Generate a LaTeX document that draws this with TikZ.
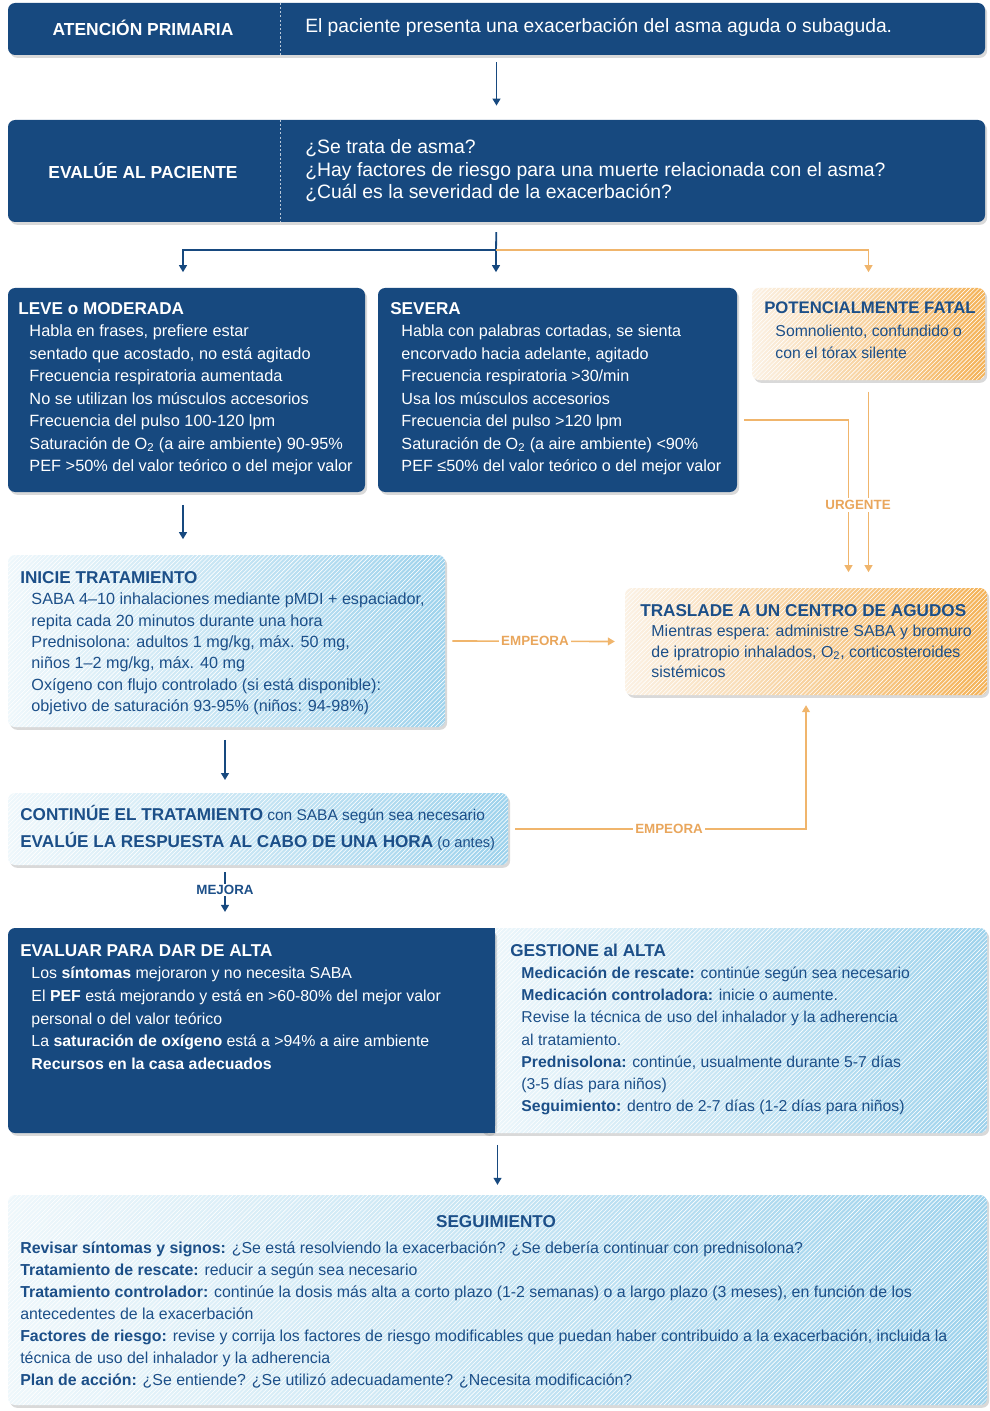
\documentclass[tikz,border=0pt]{standalone}
\usepackage{fontspec}
\setmainfont{Liberation Sans}
\usetikzlibrary{positioning,arrows.meta,calc,fit,shadows,patterns}
\definecolor{navy}{HTML}{17497F}
\definecolor{navytext}{HTML}{1C4F88}
\definecolor{skyL}{HTML}{EEF7FB}
\definecolor{skyR}{HTML}{9DD2EC}
\definecolor{amberL}{HTML}{FBF1E4}
\definecolor{amberR}{HTML}{F4B257}
\definecolor{amberline}{HTML}{F0B56C}
\definecolor{amberlabel}{HTML}{E9A65C}
\newcommand{\hdr}[1]{{\fontsize{12.2}{16}\selectfont\bfseries #1}}
\newcommand{\ind}{\hspace*{0.28cm}}
\tikzset{
  boxshadow/.style={drop shadow={opacity=0.3,shadow xshift=1.5pt,shadow yshift=-2pt}},
  hatch/.style={postaction={fill opacity=0.18,pattern=north east lines,pattern color=white}},
  navybox/.style={fill=navy,rounded corners=5pt,inner sep=0pt,boxshadow},
  skybox/.style={left color=skyL,right color=skyR,rounded corners=5pt,inner sep=0pt,boxshadow,hatch},
  amberbox/.style={left color=amberL,right color=amberR,rounded corners=5pt,inner sep=0pt,boxshadow,hatch},
  txtW/.style={text=white,align=left,inner sep=0pt,anchor=north west,font=\fontsize{11.6}{16}\selectfont},
  txtB/.style={txtW,text=navytext},
  sepline/.style={draw=white!70!navy,line width=0.6pt,dash pattern=on 1.5pt off 1.5pt},
  navyline/.style={draw=navy,line width=1.3pt},
  navyarrow/.style={navyline,-{Triangle[length=5pt,width=5.5pt]}},
  amberline/.style={draw=amberline,line width=1.2pt},
  amberarrow/.style={amberline,-{Triangle[length=5pt,width=5.5pt]}},
  amberlbl/.style={fill=white,inner sep=1.5pt,text=amberlabel,font=\fontsize{9.5}{11}\selectfont\bfseries},
}
\begin{document}
\begin{tikzpicture}[x=0.025cm,y=-0.025cm]
  \useasboundingbox (0,0) rectangle (990,1411);
  % cabecera
  \node[navybox,fit={(8,3) (985,55)}] (aten) {};
  \draw[sepline] (aten.north -| 280,0) -- (aten.south -| 280,0);
  \node[text=white,font=\fontsize{12.4}{14}\selectfont\bfseries] (aten-t) at (143,28) {ATENCIÓN PRIMARIA};
  \node[txtW,anchor=west,font=\fontsize{13.7}{16}\selectfont] (aten-x) at (305,27)
    {El paciente presenta una exacerbación del asma aguda o subaguda.};
  \node[navybox,fit={(8,120) (985,222)}] (eval) {};
  \draw[sepline] (eval.north -| 280,0) -- (eval.south -| 280,0);
  \node[text=white,font=\fontsize{12.4}{14}\selectfont\bfseries] (eval-t) at (143,171) {EVALÚE AL PACIENTE};
  \node[txtW,anchor=west,font=\fontsize{13.8}{16}\selectfont] (eval-x) at (305,171)
    {¿Se trata de asma?\\
     ¿Hay factores de riesgo para una muerte relacionada con el asma?\\
     ¿Cuál es la severidad de la exacerbación?};
  % severidad
  \node[navybox,fit={(8,288) (365,492)}] (leve) {};
  \node[txtW] (leve-x) at (18,302)
    {\hdr{LEVE o MODERADA}\\
     \ind Habla en frases, prefiere estar\\
     \ind sentado que acostado, no está agitado\\
     \ind Frecuencia respiratoria aumentada\\
     \ind No se utilizan los músculos accesorios\\
     \ind Frecuencia del pulso 100-120 lpm\\
     \ind Saturación de O\textsubscript{2} (a aire ambiente) 90-95\%\\
     \ind PEF >50\% del valor teórico o del mejor valor};
  \node[navybox,fit={(378,288) (737,492)}] (sev) {};
  \node[txtW,font=\fontsize{11.5}{16}\selectfont] (sev-x) at (390,302)
    {\hdr{SEVERA}\\
     \ind Habla con palabras cortadas, se sienta\\
     \ind encorvado hacia adelante, agitado\\
     \ind Frecuencia respiratoria >30/min\\
     \ind Usa los músculos accesorios\\
     \ind Frecuencia del pulso >120 lpm\\
     \ind Saturación de O\textsubscript{2} (a aire ambiente) <90\%\\
     \ind PEF ≤50\% del valor teórico o del mejor valor};
  \node[amberbox,fit={(752,288) (985,380)}] (fatal) {};
  \node[txtB,font=\fontsize{11.2}{16}\selectfont] (fatal-x) at (764,302)
    {{\fontsize{11.9}{16}\selectfont\bfseries POTENCIALMENTE FATAL}\\
     \ind Somnoliento, confundido o\\
     \ind con el tórax silente};
  % tratamiento
  \node[skybox,fit={(8,555) (445,727)}] (inicie) {};
  \node[txtB,font=\fontsize{11.5}{15.2}\selectfont] (inicie-x) at (20,571)
    {\hdr{INICIE TRATAMIENTO}\\
     \ind SABA 4–10 inhalaciones mediante pMDI + espaciador,\\
     \ind repita cada 20 minutos durante una hora\\
     \ind Prednisolona: adultos 1 mg/kg, máx. 50 mg,\\
     \ind niños 1–2 mg/kg, máx. 40 mg\\
     \ind Oxígeno con flujo controlado (si está disponible):\\
     \ind objetivo de saturación 93-95\% (niños: 94-98\%)};
  \node[amberbox,fit={(625,588) (987,695)}] (tras) {};
  \node[txtB,font=\fontsize{11.3}{14.6}\selectfont] (tras-x) at (640,604)
    {\hdr{TRASLADE A UN CENTRO DE AGUDOS}\\
     \ind Mientras espera: administre SABA y bromuro\\
     \ind de ipratropio inhalados, O\textsubscript{2}, corticosteroides\\
     \ind sistémicos};
  \node[skybox,fit={(8,793) (508,865)}] (cont) {};
  \node[txtB,font=\fontsize{10.4}{19}\selectfont] (cont-x) at (20,805)
    {\hdr{CONTINÚE EL TRATAMIENTO} {\fontsize{11}{19}\selectfont con SABA según sea necesario}\\
     \hdr{EVALÚE LA RESPUESTA AL CABO DE UNA HORA} (o antes)};
  % alta
  \node[skybox,fit={(480,928) (987,1133)}] (gest) {};
  \node[navybox,fit={(8,928) (495,1133)}] (evalta) {};
  \fill[navy] (470,928) rectangle (495,1133);
  \node[inner sep=0pt,fit=(evalta) (gest)] (alta) {};
  \node[txtW,font=\fontsize{11.3}{16.1}\selectfont] (evalta-x) at (20,944)
    {\hdr{EVALUAR PARA DAR DE ALTA}\\
     \ind Los \textbf{síntomas} mejoraron y no necesita SABA\\
     \ind El \textbf{PEF} está mejorando y está en >60-80\% del mejor valor\\
     \ind personal o del valor teórico\\
     \ind La \textbf{saturación de oxígeno} está a >94\% a aire ambiente\\
     \ind \textbf{Recursos en la casa adecuados}};
  \node[txtB,font=\fontsize{11.2}{15.7}\selectfont] (gest-x) at (510,944)
    {\hdr{GESTIONE al ALTA}\\
     \ind \textbf{Medicación de rescate:} continúe según sea necesario\\
     \ind \textbf{Medicación controladora:} inicie o aumente.\\
     \ind Revise la técnica de uso del inhalador y la adherencia\\
     \ind al tratamiento.\\
     \ind \textbf{Prednisolona:} continúe, usualmente durante 5-7 días\\
     \ind (3-5 días para niños)\\
     \ind \textbf{Seguimiento:} dentro de 2-7 días (1-2 días para niños)};
  % seguimiento
  \node[skybox,fit={(8,1195) (987,1405)}] (seg) {};
  \node[text=navytext,font=\fontsize{12.2}{14}\selectfont\bfseries] (seg-t) at (496,1222) {SEGUIMIENTO};
  \node[txtB,font=\fontsize{11.3}{15.6}\selectfont] (seg-x) at (20,1242)
    {\textbf{Revisar síntomas y signos:} ¿Se está resolviendo la exacerbación? ¿Se debería continuar con prednisolona?\\
     \textbf{Tratamiento de rescate:} reducir a según sea necesario\\
     \textbf{Tratamiento controlador:} continúe la dosis más alta a corto plazo (1-2 semanas) o a largo plazo (3 meses), en función de los\\
     antecedentes de la exacerbación\\
     \textbf{Factores de riesgo:} revise y corrija los factores de riesgo modificables que puedan haber contribuido a la exacerbación, incluida la\\
     técnica de uso del inhalador y la adherencia\\
     \textbf{Plan de acción:} ¿Se entiende? ¿Se utilizó adecuadamente? ¿Necesita modificación?};
  % conectores
  \draw[navyarrow,shorten <=5pt,shorten >=10pt] (aten.south) -- (eval.north);
  \coordinate (jn) at (496,250);
  \draw[navyline,shorten <=7pt] (eval.south) -- (jn);
  \draw[navyarrow,shorten >=11pt] (jn) -| (leve.north -| 183,0);
  \draw[navyarrow,shorten >=11pt] (jn) -- (jn |- sev.north);
  \draw[amberarrow,shorten >=11pt] (jn) -| (fatal.north);
  \draw[amberarrow,shorten <=5pt,shorten >=11pt] (sev.east |- 0,420) -| ([xshift=-0.5cm]fatal.south |- tras.north);
  \draw[amberarrow,shorten <=8pt,shorten >=11pt] (fatal.south) -- (fatal.south |- tras.north);
  \node[amberlbl] (urg) at (858,505) {URGENTE};
  \draw[navyarrow,shorten <=9pt,shorten >=11pt] (leve.south -| 183,0) -- (inicie.north -| 183,0);
  \draw[amberarrow,shorten <=5pt,shorten >=7pt] (inicie.east) -- node[amberlbl] (emp1) {EMPEORA} (tras.west);
  \draw[navyarrow,shorten <=9pt,shorten >=9pt] (inicie.south -| 225,0) -- (cont.north -| 225,0);
  \draw[amberarrow,shorten <=5pt,shorten >=7pt] (cont.east) -| node[amberlbl,pos=0.27] (emp2) {EMPEORA} (tras.south);
  \draw[navyarrow,shorten <=5pt,shorten >=11pt] (cont.south -| 225,0) -- node[fill=white,inner sep=1pt,text=navytext,font=\fontsize{9.5}{11}\selectfont\bfseries,pos=0.4] (mej) {MEJORA} (alta.north -| 225,0);
  \draw[navyarrow,shorten <=8pt,shorten >=7pt] (alta.south) -- (seg.north);
\end{tikzpicture}
\end{document}
